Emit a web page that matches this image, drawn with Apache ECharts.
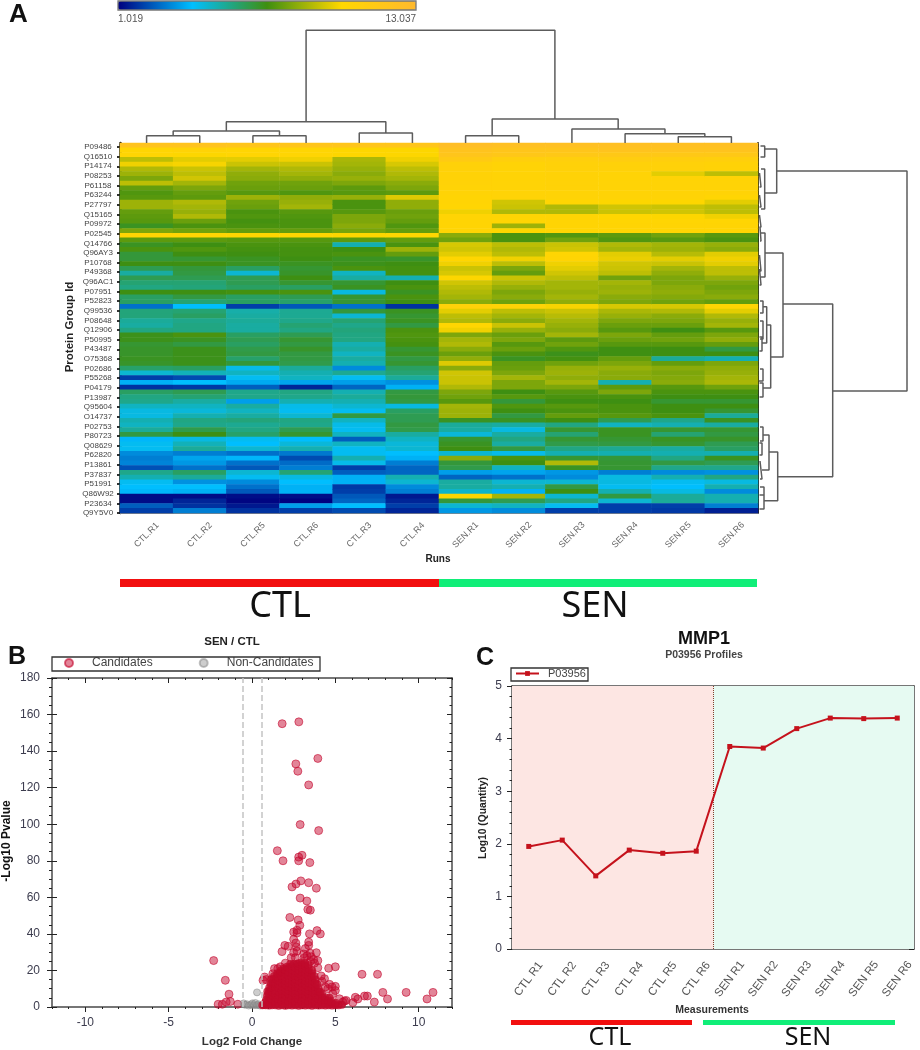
<!DOCTYPE html>
<html>
<head>
<meta charset="utf-8">
<script src="https://cdn.jsdelivr.net/npm/echarts@6/dist/echarts.min.js"></script>
<style>
html,body{margin:0;padding:0;background:#fff}
#c{width:920px;height:1050px;filter:blur(0.35px)}
</style>
</head>
<body>
<div id="c"></div>
<script>
// ---------- Panel A: heatmap ----------
const runs = ['CTL.R1','CTL.R2','CTL.R5','CTL.R6','CTL.R3','CTL.R4','SEN.R1','SEN.R2','SEN.R3','SEN.R4','SEN.R5','SEN.R6'];
const proteinLabels = ['P09486','Q16510','P14174','P08253','P61158','P63244','P27797','Q15165','P09972','P02545','Q14766','Q96AY3','P10768','P49368','Q96AC1','P07951','P52823','Q99536','P08648','Q12906','P50995','P43487','O75368','P02686','P55268','P04179','P13987','Q95604','O14737','P02753','P80723','Q08629','P62820','P13861','P37837','P51991','Q86W92','P23634','Q9Y5V0'];
const colorMin = 1.019, colorMax = 13.037;

const ctlR1 = [12,10.2,10.2,9,9.8,8.8,8.5,8,9,7.6,
 7.3,7.4,8.5,8.5,7.6,7.5,7.4,6.8,8,10.2,
 7.5,6.8,7.2,6.5,6.5,7,6.2,5.2,6.2,5.8,
 5.6,7,6,6,2.8,5.7,5.7,5.3,5.2,5.6,
 6.9,6.9,6.6,6.7,6.7,6.8,6.7,5.9,4.6,2,
 3.8,1.8,6,5.6,5.5,4.8,4.4,4.4,5,4.8,
 5.3,6.4,3.9,4.2,4.2,3.2,3,3.1,2.3,5.5,
 5,4.2,4,3.9,1.2,1.2,2.5,2];
const ctlR2 = [12,10.4,10,9.6,9.9,9.2,9,9.3,8.6,8,
 7.6,7.5,8.8,8.6,8.4,8.8,7.7,7.2,7.8,10.2,
 7.5,7,7.3,7,6.6,7,6.5,6.4,6.2,5.8,
 5.7,7,6.4,5.8,4,5.8,6,5.5,5.6,5.6,
 7.2,6.8,6.4,6.9,6.9,6.9,6.9,6,4.9,2.2,
 4,1.9,6.2,5.8,5.2,4.8,4.5,5,5.6,5.5,
 6.3,7,4.4,4.9,5.3,3,3.6,3.4,2.8,6,
 5.3,3.3,4,3.8,1.2,1.6,1.8,3];
const ctlR5 = [11.8,10.2,10.2,9.6,9.2,8.6,8.3,8.2,7.8,7.7,
 7.4,8.5,7.8,7.7,7.2,7.3,7.1,7.2,7.6,10.1,
 7.4,7.2,7.1,7,6.8,6.8,6,4.6,6.2,6.2,
 6,7.1,6,6,2,5.1,5.2,5.3,5.2,5.2,
 6,6.2,6,6.3,6.4,5.9,6.5,4.3,4.8,4.2,
 3.7,2.5,5.5,5.5,3.5,5.2,4.8,5.2,5.7,5.4,
 5.6,5.9,4.2,4,4.6,2.8,3.9,2.8,2.4,4.6,
 4.2,3.2,2.8,2.4,1.2,1.1,1.4,1.8];
const ctlR6 = [11.8,10.2,10.2,9.8,9.2,8.8,8.6,8.3,7.8,7.7,
 7.3,8.3,8.4,8.6,7.4,7.3,7.2,7.2,7.6,10.1,
 7.4,7.2,7.1,7.1,7,6.8,6.6,6.7,7,6.6,
 6,7.2,6.2,5.9,2.4,5.4,5.4,5.5,5.8,5.6,
 6.2,6.6,6.4,6.7,6.4,6.4,6.3,5.3,5,4.8,
 3.6,1.6,5.6,5.5,5,4.3,4.2,4.6,5.6,5.5,
 6.2,6.6,4,4.5,5,2.9,2.2,2.7,3,5.8,
 4.4,4,3.8,3.8,1.2,1,3.5,2];
const ctlR3 = [11.8,10,10,8.7,8.6,8.4,8.2,8.4,8,7.5,
 7.4,8.4,7.2,7.2,7.4,8,8,8.2,7.9,10,
 7.5,5,7,7.2,6.8,6.9,7.2,4.8,5.2,6.6,
 6.8,4.4,6.6,6.6,2.8,6.5,4.6,5.8,5.5,5.7,
 5.6,5.6,5,5.2,4.8,5.2,5,3.2,5.4,4.2,
 3.5,2.6,5,5.3,5,4.6,4.2,6.4,4.8,4.3,
 4.2,4.8,2.5,4.8,4.2,4.2,5,4.3,2,2.5,
 3.8,3.8,1.9,2,2.4,2.6,4,2.2];
const ctlR4 = [11.8,10,10,9.8,9.4,9,8.8,8.6,8.2,8,
 7.5,9.5,8.3,8.3,7.7,7.8,7.6,7.3,7.6,10.1,
 7.6,7.2,8.5,7.6,6.7,7,7.1,7.1,5,7,
 7.2,6.8,7.2,7,1.8,6.8,6.6,6.8,6.4,7.2,
 7.3,7.2,7.1,6.6,6.8,6.4,6.6,6,5.8,5.3,
 3.3,3.8,6.4,6.5,6.4,4.4,6,6.2,6.2,6.4,
 6.3,5.2,4.8,4.5,4.6,4,3.8,3,2.6,2.6,
 5,4.6,3.2,3,1.4,1.6,2,1.6];
const senR1 = [12.5,12,11.8,11.3,10.6,10.6,10.5,10.5,10.5,10.4,
 10.4,10.3,10.3,10.2,9.8,10.3,10.3,10.3,10.3,8.2,
 7.8,9.4,9.3,9.6,10.1,9.8,9.2,9.4,10,9.3,
 9,8.8,8.6,8.2,10.6,9.6,9,8.8,10.1,9.8,
 8,8.6,8.8,8.2,7.7,8.3,9.5,8.2,9.3,9.2,
 9.2,8.8,8,7.8,7.4,8.6,8.5,8.5,6.8,5.3,
 5.2,4.5,6.6,6.8,7,4.6,8.2,6.5,6.3,3.5,
 2.6,5.2,5.2,4.7,10,6.5,4.6,3.4];
const senR2 = [12.3,11.8,11.6,10.8,10.4,10.4,10.4,10.4,10.4,10.4,
 10.4,10.4,9.3,9.2,8.8,10.3,10.2,8.5,10,7.2,
 7.2,9,8.8,9,9.8,9,8,7.6,9.2,8.8,
 8.4,8,8.2,7.8,10.4,9,8.6,8.2,9.2,8.4,
 7.7,8,7.4,7.7,7.2,6.8,7.6,7.7,8,8.6,
 8,8,7,7.4,6.5,7.3,7,6.4,6.8,5.2,
 4.4,5.2,5.6,5.2,6.4,4.3,7.2,7,4.8,3.6,
 2.8,4.6,5,3.8,8.6,6.2,4.8,3.2];
const senR3 = [12.3,11.8,11.5,10.8,10.6,10.6,10.5,10.5,10.5,10.5,
 10.4,10.4,10.2,8.8,8.8,10.3,10.3,10.3,10.2,7.3,
 7.8,9.2,9.3,10.2,10.3,9.8,9.6,9.3,9,8.6,
 8.6,8.4,8.6,8.3,9.9,9.2,8.9,8.6,8.4,8.2,
 8.6,7.5,7.8,7.3,6.9,7.1,7.8,8.4,8.5,8.3,
 8.6,8,7.4,7.2,7,7.4,7.2,7.6,7,5.6,
 6.6,5.8,6.6,6.3,5.6,5,6.6,8.8,6.8,3.4,
 3.2,4.6,6.4,7,4.6,5.6,4.2,2];
const senR4 = [12.3,12,11.5,11,10.6,10.6,10.4,10.4,10.4,10.4,
 10.4,10.4,10,9.3,9.2,10.1,10.2,10.3,10.2,7.5,
 7.3,8.8,8.6,9.6,9.7,9.3,9.2,9,7.8,8.6,
 8.4,8.5,8.2,8,9.4,8.7,8.4,8,7.7,7.4,
 8,7.7,7.4,7,7,7.6,8,8.4,8.2,8.2,
 5,7.5,8,7.2,7,7.2,7.2,7.4,6.2,4.8,
 6.8,6.8,6.6,6.4,5.4,5,6.5,6.6,6.6,3,
 4.4,4.4,4.2,5,6.4,4.6,2,2];
const senR5 = [12.3,12,11.5,10.9,10.6,10.6,9.6,10.4,10.4,10.4,
 10.4,10.4,10,9.2,9.3,10,10.2,10.3,10.2,7.8,
 7.4,8.6,8.5,8.9,9.6,9.2,8.6,8.3,8,8,
 8.2,8.3,8.1,7.8,9.4,8.8,8.2,8,7.7,7,
 7.6,7.8,7.4,7,7,5.3,7.6,8.2,8,8.1,
 8.2,7.4,7.2,7,6.6,7,7,7.2,5.5,5,
 6.6,5.8,6.8,6.6,5.2,5,5.6,6.4,5.5,3.2,
 5,4.2,4,4.4,5.3,5.3,2,1.9];
const senR6 = [12.3,12,11.5,10.8,10.5,10.5,9,10.4,10.4,10.4,
 10.4,10.2,9.6,9,9,9.8,10.2,10.3,10.2,7.4,
 7.2,8.4,8.2,9.6,9.8,9.6,9,9,8.4,8,
 7.8,8,8.2,7.6,10.2,9.6,8.8,8.4,8.6,7.4,
 8,8.3,7.6,6.4,7,5,8,8.3,8.4,8.6,
 8.7,7.8,7.2,7,6.6,7,6.6,5.3,6.8,5.2,
 6.6,6.4,6.7,6.2,6,5,6.8,6.2,5.5,3.3,
 5.6,4.4,5,3.2,5,5,3,1.5];
const heatColumns = [ctlR1,ctlR2,ctlR5,ctlR6,ctlR3,ctlR4,senR1,senR2,senR3,senR4,senR5,senR6];

// Dendrograms: each merge = [posA, heightA, posB, heightB, mergeHeight]
const runMerges = [
 [0.5,0,1.5,0,7.3],[2.5,0,3.5,0,7.3],[1,7.3,3,7.3,12],[4.5,0,5.5,0,10],[2,12,5,10,21.3],
 [6.5,0,7.5,0,7.3],[10.5,0,11.5,0,6.3],[9.5,0,11,6.3,9.3],[8.5,0,10.25,9.3,14],[7,7.3,9.37,14,24],
 [3.5,21.3,8.18,24,112.7]];
const proteinMerges = [
 [28,18.7,248,74.7,149],[6,6.7,50,6.7,18.7],[161,25,333.7,19.7,74.7],[110,7,214,12.7,25],
 [182,8.7,245,5,12.7],[163.7,5,200,4,8.7],[90,3,134,3,7],[309,11,357.7,6,19.7],[292,5,327,4,11],
 [3,2.5,14,2.5,6.7],[26,3,66,3,6.7],[30,1.5,44,1.5,3],[52,1.5,64,1.5,3],[72,1.5,84,1.5,3],
 [84,2,98,2,3],[112,1.5,128,1.5,3],[126,1.5,142,1.5,3],[158,2,170,2,5],[178,2,196,2,5],[194,1.5,208,1.5,4],
 [226,2,238,1,5],[240,1.5,254,1.5,5],[284,2,298,2,5],[300,1.5,312,1.5,4],[318,2,336,2,4],[344,2,352,2,6],[352,1.5,366,1.5,6]];

// ---------- Panel B: volcano ----------
const volcanoXTicks = [-10,-5,0,5,10];
const volcanoXMinor = [-12,-11,-9,-8,-7,-6,-4,-3,-2,-1,1,2,3,4,6,7,8,9,11,12];
const volcanoDash = [-0.58,0.56];
const candidatesOutliers = [[1.81,155],[2.81,156],[3.95,136],[2.63,133],[2.75,129],[3.4,121.5],[2.89,99.8],[4,96.5],[1.52,85.5],[3,83],[2.8,82],[1.86,80],[2.8,80],[3.47,79],[2.93,69],[3.4,68],[2.64,67.3],[2.4,65.7],[3.86,65],[2.89,59.6],[3.29,58],[3.35,53.4],[3.5,53],[2.27,49],[2.77,47.6],[2.87,44.7],[2.7,42],[2.5,41],[3.9,41.8],[4.1,40],[2.7,40.5],[3.45,40],[2.5,37],[2.63,35],[3.4,35.5],[1.97,33.7],[2.17,33.2],[2.66,32.8],[3.4,33.7],[3.2,32],[1.8,30.3],[2.5,29.8],[2.7,30.6],[3.86,29.7],[3.48,29.5],[3.95,25.4],[3.95,21.5],[4.6,21.2],[5,22],[-2.3,25.4],[-1.6,14.6],[-1.38,7],[-1.55,2.7],[-1.3,3],[-2.03,1.5],[-1.78,1.5],[-0.85,1.5],[6.6,17.9],[7.53,17.9],[7.85,8],[9.25,8],[10.86,8],[10.5,4.4],[8.13,4.4],[7.34,2.7],[6.75,6],[6.92,6],[6.2,5.3],[6.35,4.4],[6.05,2.4],[5.65,3.6],[5.25,4.5],[5,11.3],[5,9],[4.65,12.4],[4.35,15.5],[4.15,17],[4.85,7.3],[4.55,10],[5.55,3.3],[5.45,2.7],[0.76,16.4],[0.66,14.6],[0.86,15],[1.05,10.6],[1.25,18.2],[1.35,21],[1.55,21],[1.7,22],[2,24],[2.35,27],[2.6,27],[3.1,29],[3.3,28],[3.7,26],[3.5,25],[3.15,27],[3.55,27.5],[3.75,24],[4.2,14],[4.4,11],[4.8,11]];
const candidatesDense = [
 [0.62,1],[0.72,1.1],[0.82,1],[0.8,2.6],[0.85,4],[0.9,6.2],[0.92,8.5],
 [1.02,0.8],[1,3],[1.05,5],[0.98,7.2],[1.03,9],[1.1,11],[1.12,13],[1.15,15.2],
 [1.2,0.9],[1.22,2.5],[1.18,4.6],[1.21,6.5],[1.19,8.5],[1.22,10.5],[1.28,13],[1.3,15.3],[1.32,16.8],
 [1.4,1],[1.38,3],[1.42,5],[1.4,7],[1.39,9],[1.41,11],[1.4,13],[1.48,15],[1.5,17],[1.52,18.5],
 [1.6,0.7],[1.61,2.5],[1.58,4.5],[1.6,6.5],[1.62,8.5],[1.59,10.5],[1.6,12.5],[1.61,14.5],[1.58,16.2],[1.68,18.7],[1.72,20],
 [1.8,1],[1.78,3],[1.82,5],[1.8,7],[1.79,9],[1.81,11],[1.8,13],[1.82,15],[1.78,17],[1.8,19],[1.9,21],
 [2,0.7],[2.02,2.5],[1.98,4.5],[2,6.5],[2.01,8.5],[1.99,10.5],[2,12.5],[2.02,14.5],[1.98,16.5],[2,18.5],[2.01,20.3],[2.1,22],
 [2.2,1],[2.18,3],[2.22,5],[2.2,7],[2.19,9],[2.21,11],[2.2,13],[2.22,15],[2.18,17],[2.2,19],[2.21,21.3],[2.3,23.5],
 [2.4,0.8],[2.42,2.5],[2.38,4.5],[2.4,6.5],[2.41,8.5],[2.39,10.5],[2.4,12.5],[2.42,14.5],[2.38,16.5],[2.4,18.5],[2.41,20.5],[2.4,22.5],[2.5,23.5],
 [2.6,1],[2.58,3],[2.62,5],[2.6,7],[2.59,9],[2.61,11],[2.6,13],[2.62,15],[2.58,17],[2.6,19],[2.61,21.5],[2.7,23.5],
 [2.8,0.7],[2.82,2.5],[2.78,4.5],[2.8,6.5],[2.81,8.5],[2.79,10.5],[2.8,12.5],[2.82,14.5],[2.78,16.5],[2.8,18.5],[2.81,20.5],[2.8,22.5],[2.79,24],
 [3,1],[2.98,3],[3.02,5],[3,7],[2.99,9],[3.01,11],[3,13],[3.02,15],[2.98,17],[3,19],[3.01,21],[3,23],[2.99,24.5],
 [3.2,0.8],[3.22,2.5],[3.18,4.5],[3.2,6.5],[3.21,8.5],[3.19,10.5],[3.2,12.5],[3.22,14.5],[3.18,16.5],[3.2,18.5],[3.21,20.5],[3.2,22.5],[3.19,24],
 [3.4,1],[3.38,3],[3.42,5],[3.4,7],[3.39,9],[3.41,11],[3.4,13],[3.42,15],[3.38,17],[3.4,19],[3.41,21],[3.4,23],
 [3.6,0.7],[3.62,2.5],[3.58,4.5],[3.6,6.5],[3.61,8.5],[3.59,10.5],[3.6,12.5],[3.62,14.5],[3.58,16.5],[3.6,18.5],[3.61,20],
 [3.8,1],[3.78,3],[3.82,5],[3.8,7],[3.79,9],[3.81,11],[3.8,13],[3.82,15],[3.75,17],
 [4,0.8],[4.02,2.5],[3.98,4.5],[4,6.5],[4.01,8.5],[3.99,10],[3.92,12.5],
 [4.2,1],[4.18,3],[4.22,5],[4.2,7],[4.1,8.2],
 [4.4,0.8],[4.42,2.5],[4.38,4],[4.4,5.4],
 [4.6,1],[4.62,2.3],[4.58,3.6],[4.65,5],
 [4.8,0.8],[4.82,2],[4.78,3],
 [5,0.9],[5.05,2.2],[5.2,1],[5.4,1.2]];
const nonCandidates = [[-0.5,2],[-0.42,1.2],[-0.3,1.5],[-0.2,0.8],[-0.05,1.2],[0.02,2],[0.12,1],[0.2,2.2],[0.3,1],[0.3,8],[0.4,1.5],[0.48,0.8]];

// ---------- Panel C: profile ----------
const measurements = ['CTL R1','CTL R2','CTL R3','CTL R4','CTL R5','CTL R6','SEN R1','SEN R2','SEN R3','SEN R4','SEN R5','SEN R6'];
const profileValues = [1.95,2.07,1.39,1.88,1.82,1.86,3.85,3.82,4.19,4.39,4.38,4.39];

// ---------- helpers ----------
function mergePath(merges, vertical){
  const out=[];
  merges.forEach(m=>{
    const seq=[[m[0],m[1]],[m[0],m[4]],[m[2],m[4]],[m[2],m[3]]];
    seq.forEach(p=>out.push(vertical?[p[0],p[1]]:[p[1],p[0]]));
    out.push(['-','-']);
  });
  return out;
}
const heatData=[];
heatColumns.forEach((col,c)=>col.forEach((v,r)=>heatData.push([c,r,v])));
const rowIds = ctlR1.map((_,i)=>String(i));
const HID={show:false};
const hiddenValue=(gridIndex,min,max,extra)=>Object.assign({type:'value',gridIndex,min,max,axisLine:HID,axisTick:HID,axisLabel:HID,splitLine:HID},extra||{});
const TICK='#222', FRAME='#4a4a4a', LABEL='#3c3c4e';
const fontF='"Liberation Sans",Arial,sans-serif';
const frameLine=(o)=>Object.assign({onZero:false,lineStyle:{color:FRAME,width:1.5}},o||{});

const grids=[
 {left:120,top:143,width:638,height:370},
 {left:120,top:20,width:638,height:123},
 {left:758,top:143,width:160,height:370},
 {left:120,top:147,width:638,height:366},
 {left:52,top:678,width:400,height:329},
 {left:512,top:686,width:402,height:263}
].map(g=>Object.assign(g,{containLabel:false,show:false}));

const xAxes=[
 // 0 heat bottom
 {type:'category',gridIndex:0,data:runs,position:'bottom',axisLine:{onZero:false,lineStyle:{color:'#888'}},
  axisTick:{alignWithLabel:true,length:5,lineStyle:{color:'#444'}},
  axisLabel:{rotate:45,align:'center',verticalAlign:'middle',margin:22,fontSize:9,color:'#666',fontFamily:fontF,interval:0},splitLine:HID},
 // 1 heat top
 {type:'category',gridIndex:0,data:runs,position:'top',axisLine:{onZero:false,lineStyle:{color:'#777'}},
  axisTick:{alignWithLabel:true,inside:true,length:4,lineStyle:{color:'#333'}},axisLabel:HID,splitLine:HID},
 // 2,3,4 hidden
 hiddenValue(1,0,12),
 hiddenValue(2,0,160),
 hiddenValue(3,0,1),
 // 5 volcano bottom major
 {type:'value',gridIndex:4,min:-12,max:12,position:'bottom',axisLine:frameLine(),
  axisTick:{customValues:volcanoXTicks,length:5,lineStyle:{color:TICK}},
  axisLabel:{customValues:volcanoXTicks,fontSize:12,color:LABEL,margin:10,fontFamily:fontF},splitLine:HID},
 // 6 volcano bottom minor
 {type:'value',gridIndex:4,min:-12,max:12,position:'bottom',axisLine:{show:false,onZero:false},
  axisTick:{customValues:volcanoXMinor,length:2,lineStyle:{color:TICK}},axisLabel:HID,splitLine:HID},
 // 7 volcano top major
 {type:'value',gridIndex:4,min:-12,max:12,position:'top',axisLine:frameLine(),
  axisTick:{customValues:volcanoXTicks,inside:true,length:5,lineStyle:{color:TICK}},axisLabel:HID,splitLine:HID},
 // 8 volcano top minor
 {type:'value',gridIndex:4,min:-12,max:12,position:'top',axisLine:{show:false,onZero:false},
  axisTick:{customValues:volcanoXMinor,inside:true,length:2,lineStyle:{color:TICK}},axisLabel:HID,splitLine:HID},
 // 9 profile bottom
 {type:'category',gridIndex:5,data:measurements,position:'bottom',axisLine:frameLine(),
  axisTick:{length:5,lineStyle:{color:TICK}},
  axisLabel:{rotate:53,align:'center',verticalAlign:'middle',margin:30,fontSize:11.5,color:'#555',interval:0,fontFamily:fontF},splitLine:HID},
 // 10 profile top
 {type:'category',gridIndex:5,data:measurements,position:'top',axisLine:frameLine(),
  axisTick:{inside:true,length:5,lineStyle:{color:TICK}},axisLabel:HID,splitLine:HID},
 // 11 profile hidden value for shading
 hiddenValue(5,0,12)
];

const yAxes=[
 // 0 heat left
 {type:'category',gridIndex:0,data:rowIds,inverse:true,position:'left',axisLine:{onZero:false,lineStyle:{color:'#111',width:2.5}},
  axisTick:{length:3,inside:true,lineStyle:{color:'#111',width:1.3},interval:0},axisLabel:HID,splitLine:HID},
 // 1 heat right
 {type:'category',gridIndex:0,data:rowIds,inverse:true,position:'right',axisLine:{onZero:false,lineStyle:{color:'#222',width:2}},
  axisTick:{length:4,inside:true,lineStyle:{color:'#111',width:1.3},interval:0},axisLabel:HID,splitLine:HID},
 // 2,3 hidden
 hiddenValue(1,0,123),
 hiddenValue(2,0,370,{inverse:true}),
 // 4 protein labels
 {type:'category',gridIndex:3,data:proteinLabels,inverse:true,boundaryGap:false,position:'left',axisLine:{show:false,onZero:false},
  axisTick:{length:3,lineStyle:{color:'#000',width:1.6},interval:0},
  axisLabel:{interval:0,align:'center',margin:22,fontSize:8,color:'#444',fontFamily:fontF},splitLine:HID},
 // 5 volcano left
 {type:'value',gridIndex:4,min:0,max:180,interval:20,position:'left',axisLine:frameLine(),
  axisTick:{length:5,lineStyle:{color:TICK}},minorTick:{show:true,splitNumber:4,length:3,lineStyle:{color:TICK}},
  axisLabel:{fontSize:12,color:LABEL,margin:12,fontFamily:fontF},splitLine:HID},
 // 6 volcano right
 {type:'value',gridIndex:4,min:0,max:180,interval:20,position:'right',axisLine:frameLine(),
  axisTick:{inside:true,length:5,lineStyle:{color:TICK}},minorTick:{show:true,splitNumber:4,length:2.5,lineStyle:{color:TICK}},axisLabel:HID,splitLine:HID},
 // 7 volcano left inside
 {type:'value',gridIndex:4,min:0,max:180,interval:20,position:'left',axisLine:{show:false,onZero:false},
  axisTick:{inside:true,length:5,lineStyle:{color:TICK}},axisLabel:HID,splitLine:HID},
 // 8 profile left
 {type:'value',gridIndex:5,min:0,max:5,interval:1,position:'left',axisLine:frameLine(),
  axisTick:{length:5,lineStyle:{color:TICK}},minorTick:{show:true,splitNumber:5,length:2.5,lineStyle:{color:TICK}},
  axisLabel:{fontSize:12,color:LABEL,margin:10,fontFamily:fontF},splitLine:HID},
 // 9 profile right
 {type:'value',gridIndex:5,min:0,max:5,interval:1,position:'right',axisLine:frameLine(),
  axisTick:{inside:true,length:5,lineStyle:{color:TICK}},minorTick:{show:true,splitNumber:5,length:2.5,lineStyle:{color:TICK}},axisLabel:HID,splitLine:HID}
];

const dendroStyle={color:'#5c5c5c',width:1.5};
const scatterStyle={color:'rgba(196,8,46,0.62)',borderColor:'rgba(196,8,46,0.75)',borderWidth:1};

const series=[
 {type:'heatmap',name:'Protein quantity',xAxisIndex:0,yAxisIndex:0,data:heatData,progressive:0,animation:false},
 {type:'line',name:'Run dendrogram',xAxisIndex:2,yAxisIndex:2,data:mergePath(runMerges,true),showSymbol:false,symbol:'none',lineStyle:dendroStyle,connectNulls:false,silent:true},
 {type:'line',name:'Protein dendrogram',xAxisIndex:3,yAxisIndex:3,data:mergePath(proteinMerges,false),showSymbol:false,symbol:'none',lineStyle:dendroStyle,connectNulls:false,silent:true},
 {type:'scatter',name:'Protein axis',xAxisIndex:4,yAxisIndex:4,data:[],silent:true},
 {type:'scatter',name:'Candidates',xAxisIndex:5,yAxisIndex:5,symbolSize:8,itemStyle:scatterStyle,data:candidatesOutliers,
  markLine:{silent:true,symbol:'none',label:HID,lineStyle:{type:'dashed',color:'#c4c4c4',width:1.5},data:volcanoDash.map(v=>({xAxis:v}))}},
 {type:'scatter',name:'Candidates',xAxisIndex:5,yAxisIndex:5,symbolSize:8,itemStyle:{color:'#c00a2c'},data:candidatesDense,z:3},
 {type:'scatter',name:'Non-Candidates',xAxisIndex:5,yAxisIndex:5,symbolSize:7,itemStyle:{color:'rgba(150,150,150,0.6)',borderColor:'rgba(130,130,130,0.6)',borderWidth:1},data:nonCandidates,z:2},
 {type:'line',name:'Regions',xAxisIndex:11,yAxisIndex:8,data:[],silent:true,
  markArea:{silent:true,data:[
    [{xAxis:0,itemStyle:{color:'#fde6e3'}},{xAxis:6}],
    [{xAxis:6,itemStyle:{color:'#e6faf2'}},{xAxis:12}]]},
  markLine:{silent:true,symbol:'none',label:HID,lineStyle:{type:'dotted',color:'#8a3a2a',width:1},data:[{xAxis:6}]}},
 {type:'line',name:'P03956',xAxisIndex:9,yAxisIndex:8,data:profileValues,symbol:'rect',symbolSize:5,
  lineStyle:{color:'#c5121c',width:2},itemStyle:{color:'#c5121c'},z:5}
];

const txt=(text,x,y,o)=>({type:'text',x,y,rotation:(o&&o.rot)||0,z:50,style:{text,fontFamily:(o&&o.ff)||fontF,fontSize:(o&&o.fs)||11,fontWeight:(o&&o.fw)||'normal',fill:(o&&o.fill)||'#111',textAlign:(o&&o.al)||'center',textVerticalAlign:'middle'}});
const bar=(x,y,w,h,fill)=>({type:'rect',shape:{x,y,width:w,height:h},style:{fill},z:50,silent:true});
const box=(x,y,w,h,c)=>({type:'rect',shape:{x,y,width:w,height:h},style:{fill:'none',stroke:c,lineWidth:1.3},z:50,silent:true});
const bigF='"Noto Sans","Open Sans",sans-serif';

const graphics=[
 txt('A',18.5,14.5,{fs:26,fw:'bold'}),
 txt('B',17,657.5,{fs:25,fw:'bold'}),
 txt('C',485,658,{fs:25,fw:'bold'}),
 box(118,1,298,9,'#777'),
 txt('1.019',118,19,{fs:10,al:'left',fill:'#555'}),
 txt('13.037',416,19,{fs:10,al:'right',fill:'#555'}),
 txt('Protein Group Id',70,327,{fs:11.5,fw:'bold',rot:Math.PI/2,fill:'#222'}),
 txt('Runs',438,559,{fs:10,fw:'bold',fill:'#222'}),
 bar(120,579,319,8,'#f20f0f'),
 bar(439,579,318,8,'#10ee78'),
 txt('CTL',280,607,{fs:36,ff:bigF}),
 txt('SEN',595,607,{fs:36,ff:bigF}),
 txt('SEN / CTL',232,642,{fs:11.5,fw:'bold',fill:'#222'}),
 box(52,657,268,14,'#333'),
 txt('Log2 Fold Change',252,1042,{fs:11.5,fw:'bold',fill:'#333'}),
 txt('-Log10 Pvalue',7,841,{fs:12,fw:'bold',rot:Math.PI/2,fill:'#111'}),
 txt('MMP1',704,639,{fs:18,fw:'bold',fill:'#111'}),
 txt('P03956 Profiles',704,655,{fs:10.5,fw:'bold',fill:'#444'}),
 box(511,668,77,13,'#333'),
 txt('Log10 (Quantity)',483,818,{fs:10.3,fw:'bold',rot:Math.PI/2,fill:'#222'}),
 txt('Measurements',712,1010,{fs:10.5,fw:'bold',fill:'#333'}),
 bar(511,1020,181,5,'#f20f0f'),
 bar(703,1020,192,5,'#10ee78'),
 txt('CTL',610,1038,{fs:25,ff:bigF}),
 txt('SEN',808,1038,{fs:25,ff:bigF})
];

const chart=echarts.init(document.getElementById('c'),null,{renderer:'canvas',width:920,height:1050});
chart.setOption({
 animation:false,
 backgroundColor:'#fff',
 grid:grids,
 xAxis:xAxes,
 yAxis:yAxes,
 visualMap:{type:'continuous',seriesIndex:0,min:colorMin,max:colorMax,orient:'horizontal',left:118,top:1,itemWidth:9,itemHeight:298,calculable:false,text:null,showLabel:false,padding:0,hoverLink:false,
   inRange:{color:['#00007f','#00bfff','#3f8f10','#ffd700','#ffb92e']},textStyle:{fontSize:0}},
 legend:[
  {data:['Candidates','Non-Candidates'],left:64,top:657,padding:0,itemWidth:36,itemHeight:8,itemGap:46,height:14,textStyle:{fontSize:12,color:'#444',fontFamily:fontF},selectedMode:false},
  {data:['P03956'],left:515,top:668,padding:0,itemWidth:23,itemHeight:6,textStyle:{fontSize:11,color:'#444',fontFamily:fontF,padding:[0,0,0,4]},selectedMode:false}
 ],
 series,
 graphic:graphics
});
</script>
</body>
</html>
